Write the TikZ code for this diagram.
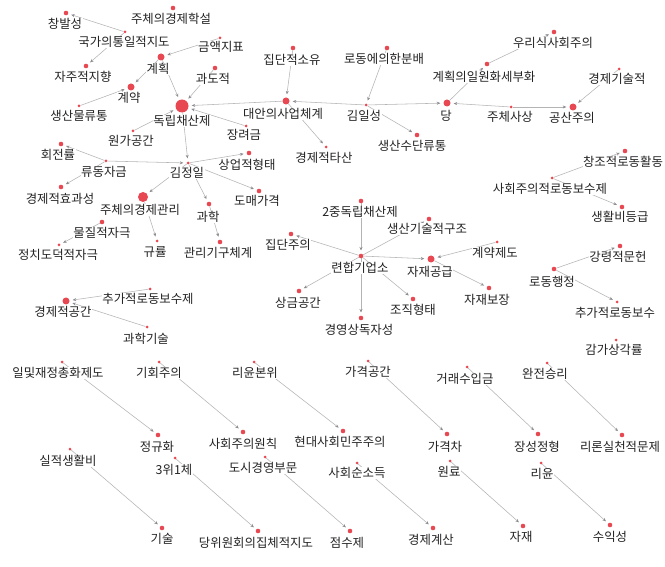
\documentclass[tikz,border=0pt]{standalone}
\usepackage{fontspec}
\setmainfont{Noto Sans CJK KR}
\usetikzlibrary{arrows.meta}
\definecolor{dotred}{RGB}{232,72,82}
\definecolor{edgegray}{RGB}{180,180,180}
\definecolor{tipgray}{RGB}{140,140,145}
\definecolor{txt}{RGB}{35,35,35}
\pgfdeclarelayer{bgfill}
\pgfdeclarelayer{edges}
\pgfsetlayers{bgfill,edges,main}
\tikzset{
  dotS/.style={circle,fill=dotred,draw=none,inner sep=0pt,minimum size=3pt},
  dotM/.style={circle,fill=dotred,draw=none,inner sep=0pt,minimum size=4.6pt},
  dotL/.style={circle,fill=dotred,draw=none,inner sep=0pt,minimum size=7pt},
  dotXL/.style={circle,fill=dotred,draw=none,inner sep=0pt,minimum size=10pt},
  dotXXL/.style={circle,fill=dotred,draw=none,inner sep=0pt,minimum size=13pt},
  lbl/.style={fill=white,inner sep=0.5pt,text=txt,font=\fontsize{12.4}{13}\selectfont},
  lnk/.style={draw=edgegray,line width=0.55pt,-{Stealth[length=3.5pt,width=3pt,color=tipgray]},shorten >=3pt}
}
\newcommand{\nd}[5]{\node[#3] (#1) at (#2) {}; \node[lbl] (#1l) at (#4) {#5};}
\begin{document}
\begin{tikzpicture}[x=1pt,y=-1pt]
\begin{pgfonlayer}{bgfill}
\fill[white] (0,0) rectangle (665,567);
\end{pgfonlayer}
\useasboundingbox (0,0) rectangle (665,567);
% nodes
\nd{cbs}{66,13}{dotM}{65,24}{창발성}
\nd{jcx}{173,8}{dotM}{171,19}{주체의경제학설}
\nd{kgt}{125,32}{dotS}{124,42}{국가의통일적지도}
\nd{gaj}{220,38}{dotS}{221,47}{금액지표}
\nd{gh}{161,57}{dotL}{158,69}{계획}
\nd{gdj}{215,68}{dotM}{213,79}{과도적}
\nd{jjj}{86,66}{dotM}{83,77}{자주적지향}
\nd{gy}{131,87}{dotL}{129,98}{계약}
\nd{smr}{79,106}{dotS}{79,116}{생산물류통}
\nd{dr}{182,106}{dotXXL}{182,121}{독립채산제}
\nd{wg}{133,131}{dotS}{131,141}{원가공간}
\nd{jds}{293,48}{dotM}{292,60}{집단적소유}
\nd{rdb}{387,48}{dotM}{384,59}{로동에의한분배}
\nd{dan}{286,101}{dotL}{283,114}{대안의사업체계}
\nd{kis}{366,105}{dotS}{364,116}{김일성}
\nd{dang}{447,103}{dotL}{446,116}{당}
\nd{jrg}{246,126}{dotS}{244,135}{장려금}
\nd{gjt}{326,147}{dotS}{324,158}{경제적타산}
\nd{ssr}{417,135}{dotM}{412,146}{생산수단류통}
\nd{wrs}{554,32}{dotM}{553,43}{우리식사회주의}
\nd{ghw}{487,64}{dotM}{484,77}{계획의일원화세부화}
\nd{gjg}{619,69}{dotS}{617,79}{경제기술적}
\nd{jcs}{511,107}{dotS}{510,117}{주체사상}
\nd{gsj}{573,107}{dotL}{572,118}{공산주의}
\nd{hjr}{61,144}{dotM}{58,155}{회전률}
\nd{rdj}{106,161}{dotS}{104,172}{류동자금}
\nd{kjl}{188,163}{dotS}{187,173}{김정일}
\nd{sup}{249,153}{dotM}{247,165}{상업적형태}
\nd{dmg}{259,191}{dotM}{257,201}{도매가격}
\nd{gjh}{61,187}{dotM}{60,199}{경제적효과성}
\nd{jcg}{143,197}{dotXL}{140,210}{주체의경제관리}
\nd{ghk}{209,204}{dotM}{208,217}{과학}
\nd{mjj}{102,222}{dotM}{102,233}{물질적자극}
\nd{jcd}{59,245}{dotS}{58,255}{정치도덕적자극}
\nd{gyr}{157,241}{dotS}{155,252}{규률}
\nd{ggc}{220,242}{dotM}{218,253}{관리기구체계}
\nd{jdr}{361,201}{dotM}{360,212}{2중독립채산제}
\nd{sgj}{429,219}{dotM}{427,229}{생산기술적구조}
\nd{jdj}{291,234}{dotM}{288,245}{집단주의}
\nd{rhg}{361,256}{dotM}{360,268}{련합기업소}
\nd{jjg}{431,259}{dotL}{430,272}{자재공급}
\nd{sgg}{299,291}{dotM}{298,303}{상금공간}
\nd{gys}{361,318}{dotM}{359,330}{경영상독자성}
\nd{jjh}{413,299}{dotM}{413,310}{조직형태}
\nd{gyj}{497,242}{dotS}{495,253}{계약제도}
\nd{jjb}{489,288}{dotM}{487,300}{자재보장}
\nd{cjr}{625,151}{dotM}{623,162}{창조적로동활동}
\nd{shr}{552,178}{dotS}{550,189}{사회주의적로동보수제}
\nd{shb}{622,207}{dotM}{620,217}{생활비등급}
\nd{grm}{620,246}{dotM}{618,257}{강령적문헌}
\nd{rdh}{554,269}{dotM}{552,282}{로동행정}
\nd{cgb}{617,302}{dotS}{615,313}{추가적로동보수}
\nd{ggs}{616,340}{dotS}{614,350}{감가상각률}
\nd{gjk}{66,301}{dotL}{63,312}{경제적공간}
\nd{cgj}{150,289}{dotS}{148,299}{추가적로동보수제}
\nd{ghg}{147,327}{dotS}{146,339}{과학기술}
\nd{ijc}{62,362}{dotS}{58,373}{일및재정총화제도}
\nd{ghj}{159,362}{dotS}{159,373}{기회주의}
\nd{rub}{254,362}{dotS}{255,373}{리윤본위}
\nd{jgh}{158,435}{dotM}{157,447}{정규화}
\nd{shw}{243,432}{dotM}{243,444}{사회주의원칙}
\nd{hds}{343,431}{dotM}{340,442}{현대사회민주주의}
\nd{ggk}{368,361}{dotS}{368,372}{가격공간}
\nd{grs}{467,367}{dotS}{465,379}{거래수입금}
\nd{wjs}{547,363}{dotS}{545,374}{완전승리}
\nd{ggch}{447,434}{dotM}{445,447}{가격차}
\nd{sjh}{538,434}{dotM}{537,447}{장성정형}
\nd{rsm}{622,435}{dotM}{620,447}{리론실천적문제}
\nd{sjs}{70,449}{dotS}{68,461}{실적생활비}
\nd{swc}{175,458}{dotS}{174,470}{3위1체}
\nd{dsg}{265,457}{dotS}{263,468}{도시경영부문}
\nd{ssd}{357,463}{dotS}{357,473}{사회순소득}
\nd{wr}{450,461}{dotS}{449,472}{원료}
\nd{ry}{541,463}{dotS}{542,474}{리윤}
\nd{gs}{162,528}{dotM}{162,539}{기술}
\nd{dwh}{258,531}{dotM}{256,543}{당위원회의집체적지도}
\nd{jsj}{350,531}{dotM}{347,543}{점수제}
\nd{gjs}{433,528}{dotM}{431,540}{경제계산}
\nd{jj}{523,526}{dotM}{521,537}{자재}
\nd{sis}{610,525}{dotM}{610,537}{수익성}
% edges
\begin{pgfonlayer}{edges}
\draw[lnk] (kgt) -- (cbs);
\draw[lnk] (kgt) -- (jjj);
\draw[lnk] (gaj) -- (gh);
\draw[lnk] (gh) -- (gy);
\draw[lnk] (gh) -- (dr);
\draw[lnk] (gdj) -- (dr);
\draw[lnk] (smr) -- (gy);
\draw[lnk] (dan) -- (dr);
\draw[lnk] (jrg) -- (dr);
\draw[lnk] (wg) -- (dr);
\draw[lnk] (dr) -- (kjl);
\draw[lnk] (jds) -- (dan);
\draw[lnk] (rdb) -- (kis);
\draw[lnk] (kis) -- (dan);
\draw[lnk] (kis) -- (dang);
\draw[lnk] (kis) -- (ssr);
\draw[lnk] (dan) -- (gjt);
\draw[lnk] (ghw) -- (wrs);
\draw[lnk] (dang) -- (ghw);
\draw[lnk] (jcs) -- (dang);
\draw[lnk] (jcs) -- (gsj);
\draw[lnk] (gjg) -- (gsj);
\draw[lnk] (rdj) -- (hjr);
\draw[lnk] (rdj) -- (kjl);
\draw[lnk] (rdj) -- (gjh);
\draw[lnk] (kjl) -- (sup);
\draw[lnk] (kjl) -- (dmg);
\draw[lnk] (kjl) -- (jcg);
\draw[lnk] (kjl) -- (ghk);
\draw[lnk] (ghk) -- (ggc);
\draw[lnk] (jcg) -- (gyr);
\draw[lnk] (mjj) -- (jcd);
\draw[lnk] (jdr) -- (rhg);
\draw[lnk] (rhg) -- (jdj);
\draw[lnk] (rhg) -- (sgj);
\draw[lnk] (rhg) -- (jjg);
\draw[lnk] (rhg) -- (sgg);
\draw[lnk] (rhg) -- (gys);
\draw[lnk] (rhg) -- (jjh);
\draw[lnk] (gyj) -- (jjg);
\draw[lnk] (jjg) -- (jjb);
\draw[lnk] (shr) -- (cjr);
\draw[lnk] (shr) -- (shb);
\draw[lnk] (rdh) -- (grm);
\draw[lnk] (rdh) -- (cgb);
\draw[lnk] (cgj) -- (gjk);
\draw[lnk] (ghg) -- (gjk);
\draw[lnk] (ijc) -- (jgh);
\draw[lnk] (ghj) -- (shw);
\draw[lnk] (rub) -- (hds);
\draw[lnk] (ggk) -- (ggch);
\draw[lnk] (grs) -- (sjh);
\draw[lnk] (wjs) -- (rsm);
\draw[lnk] (sjs) -- (gs);
\draw[lnk] (swc) -- (dwh);
\draw[lnk] (dsg) -- (jsj);
\draw[lnk] (ssd) -- (gjs);
\draw[lnk] (wr) -- (jj);
\draw[lnk] (ry) -- (sis);
\end{pgfonlayer}
\end{tikzpicture}
\end{document}
